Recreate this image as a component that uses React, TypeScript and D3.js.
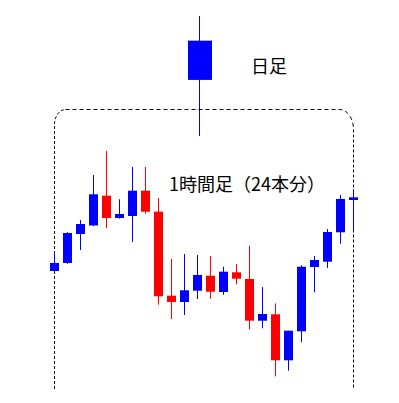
import React from "react";
import * as d3 from "d3";

// 24 hourly candles (price units)
const hours = d3.range(1, 25).map((h) => `${h}`);
const opens = [129, 137, 166, 174.5, 204.3, 182, 184, 209.3, 188.3, 104.3, 98, 109.3, 124.3, 108, 127.7, 121, 79.3, 85.7, 39.7, 68.7, 133, 138.3, 167.7, 200];
const closes = [137, 167, 176, 205.7, 182, 186, 209.3, 188.3, 103.7, 98, 109.7, 125, 108.3, 128.3, 121.3, 79.3, 86, 39.7, 69.3, 133.3, 140, 168, 201, 202.7];
const highs = [148.3, 168, 180, 225, 249, 200.7, 233, 233, 202, 141, 146, 145, 144, 133.3, 136, 154.3, 113, 96.7, 69.3, 134.7, 144, 171, 205, 210.7];
const lows = [127.3, 136, 150, 174, 172, 181.3, 158, 186.3, 95.3, 81, 85, 101, 101.3, 105.3, 115.7, 70.7, 71.7, 23.7, 29.3, 57.7, 107.7, 132, 156.3, 169.3];

const dailyLabel = "日足";
const hourlyLabel = "1時間足（24本分）";

const UP = "#0000ff";
const DOWN = "#ff0000";

export default function App() {
  const W = 399;
  const H = 403;

  const candles = hours.map((h, i) => ({
    key: h,
    open: opens[i],
    close: closes[i],
    high: highs[i],
    low: lows[i],
  }));

  // hourly panel scales
  const x = d3.scalePoint<string>().domain(hours).range([54.5, 353.5]);
  const y = d3.scaleLinear().domain([0, 400]).range([400, 0]);
  const bodyW = 9;

  // the daily candle aggregates the 24 hourly candles
  const day = {
    open: opens[0],
    close: closes[closes.length - 1],
    high: d3.max(highs) as number,
    low: d3.min(lows) as number,
  };
  const yd = d3.scaleLinear().domain([day.low, day.high]).range([136, 16]);
  const dayX = 200;
  const dayW = 24;

  // dashed frame around the hourly candles
  const left = 54.5;
  const right = 353.5;
  const top = 109.5;
  const bottom = 389;
  const leftPath = `M${left},${bottom} V${top + 15} A11,15 0 0 1 ${left + 11},${top}`;
  const topPath = `M${left + 11},${top} H${right - 14} A14,20 0 0 1 ${right},${top + 20}`;
  const rightPath = `M${right},${top + 20} V${bottom}`;

  return (
    <svg
      width={W}
      height={H}
      style={{ position: "absolute", left: 0, top: 0, background: "#fff" }}
      fontFamily="'Noto Sans CJK JP', 'Noto Sans', sans-serif"
    >
      <rect width={W} height={H} fill="#fff" />

      {/* daily candle */}
      <g>
        <line
          x1={dayX - 0.5}
          x2={dayX - 0.5}
          y1={yd(day.high)}
          y2={yd(day.low)}
          stroke={day.close >= day.open ? UP : DOWN}
          strokeWidth={1}
        />
        <rect
          x={dayX - dayW / 2}
          y={yd(Math.max(day.open, day.close))}
          width={dayW}
          height={Math.abs(yd(day.open) - yd(day.close))}
          fill={day.close >= day.open ? UP : DOWN}
        />
      </g>
      <text x={251} y={72.5} fontSize={18} fill="#000">
        {dailyLabel}
      </text>

      {/* frame */}
      <g fill="none" stroke="#000" strokeWidth={1}>
        <path d={topPath} strokeDasharray="4,3" />
        <path d={leftPath} strokeDasharray="3,2" />
        <path d={rightPath} strokeDasharray="3,2" />
      </g>

      <text x={169} y={191} fontSize={18} fill="#000">
        {hourlyLabel}
      </text>

      {/* hourly candles */}
      <g>
        {candles.map((c) => {
          const cx = x(c.key) as number;
          const color = c.close >= c.open ? UP : DOWN;
          const yTop = y(Math.max(c.open, c.close));
          const yBot = y(Math.min(c.open, c.close));
          return (
            <g key={c.key}>
              <line x1={cx} x2={cx} y1={y(c.high)} y2={y(c.low)} stroke={color} strokeWidth={1} />
              <rect
                x={cx - bodyW / 2}
                y={yTop}
                width={bodyW}
                height={Math.max(yBot - yTop, 1)}
                fill={color}
              />
            </g>
          );
        })}
      </g>
    </svg>
  );
}
